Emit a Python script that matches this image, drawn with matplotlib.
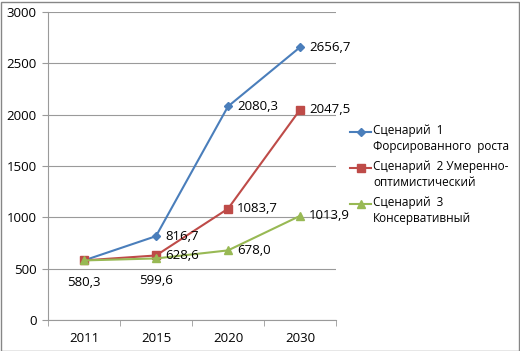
import matplotlib
matplotlib.use('Agg')
from matplotlib import pyplot as plt
from matplotlib.lines import Line2D
from matplotlib.patches import Rectangle

years = ['2011', '2015', '2020', '2030']
s1 = [580.3, 816.7, 2080.3, 2656.7]
s2 = [580.3, 628.6, 1083.7, 2047.5]
s3 = [580.3, 599.6, 678.0, 1013.9]
names = ['Сценарий  1\nФорсированного  роста',
         'Сценарий  2 Умеренно-\nоптимистический',
         'Сценарий  3\nКонсервативный']
colors = ['#4A7EBB', '#BE4B48', '#98B954']
markers = ['D', 's', '^']
msizes = [4, 6, 6]

plt.rcParams['font.family'] = ['Open Sans', 'DejaVu Sans']
fs = 9.5
grey = '#9a9a9a'

fig = plt.figure(figsize=(5.2, 3.51), dpi=100)
ax = fig.add_axes([48/520, 1-320/351, 288/520, 308/351])

x = range(len(years))
for vals, c, m, ms in zip([s1, s2, s3], colors, markers, msizes):
	ax.plot(x, vals, color=c, lw=1.5, marker=m, ms=ms, mec=c, mfc=c, zorder=3)

#data labels: right of the point, or below it
def label(i, v, below=False):
	txt = '{:.1f}'.format(v).replace('.', ',')
	if below:
		ax.annotate(txt, (i, v), xytext=(0, -22), textcoords='offset pixels',
		            ha='center', va='center', fontsize=fs)
	else:
		ax.annotate(txt, (i, v), xytext=(9, 0), textcoords='offset pixels',
		            ha='left', va='center', fontsize=fs)

for i in [1, 2, 3]:
	label(i, s1[i])
	label(i, s2[i])
label(2, s3[2])
label(3, s3[3])
label(0, s3[0], below=True)
label(1, s3[1], below=True)

ax.set_xlim(-0.5, 3.5)
ax.set_ylim(0, 3000)
ax.set_yticks(range(0, 3001, 500))
ax.set_xticks(list(x))
ax.set_xticklabels(years)
ax.set_xticks([-0.5, 0.5, 1.5, 2.5, 3.5], minor=True)
ax.tick_params(axis='x', which='major', length=0, pad=9, labelsize=fs)
ax.tick_params(axis='x', which='minor', length=4, color=grey, direction='out')
ax.tick_params(axis='y', length=4, color=grey, direction='out', pad=4, labelsize=fs)
ax.grid(axis='y', color=grey, lw=0.8)
ax.set_axisbelow(True)
for s in ['top', 'right']:
	ax.spines[s].set_visible(False)
for s in ['left', 'bottom']:
	ax.spines[s].set_color(grey)
	ax.spines[s].set_linewidth(0.8)

#legend drawn by hand so the handle sits on the first text line
ys = [132, 168, 204]
for name, c, m, ms, yp in zip(names, colors, markers, msizes, ys):
	fy = 1 - yp/351
	fig.add_artist(Line2D([350/520, 371/520], [fy, fy], color=c, lw=1.5,
	                      transform=fig.transFigure))
	fig.add_artist(Line2D([360.5/520], [fy], color=c, marker=m, ms=ms,
	                      mec=c, mfc=c, transform=fig.transFigure))
	fig.text(373/520, fy + 8/351, name, fontsize=8.5, va='top', ha='left',
	         linespacing=1.3)

fig.add_artist(Rectangle((0.5/520, 0.5/351), 518/520, 349/351, fill=False,
                         ec='#868686', lw=1, transform=fig.transFigure))

fig.savefig('out.png', dpi=100)
